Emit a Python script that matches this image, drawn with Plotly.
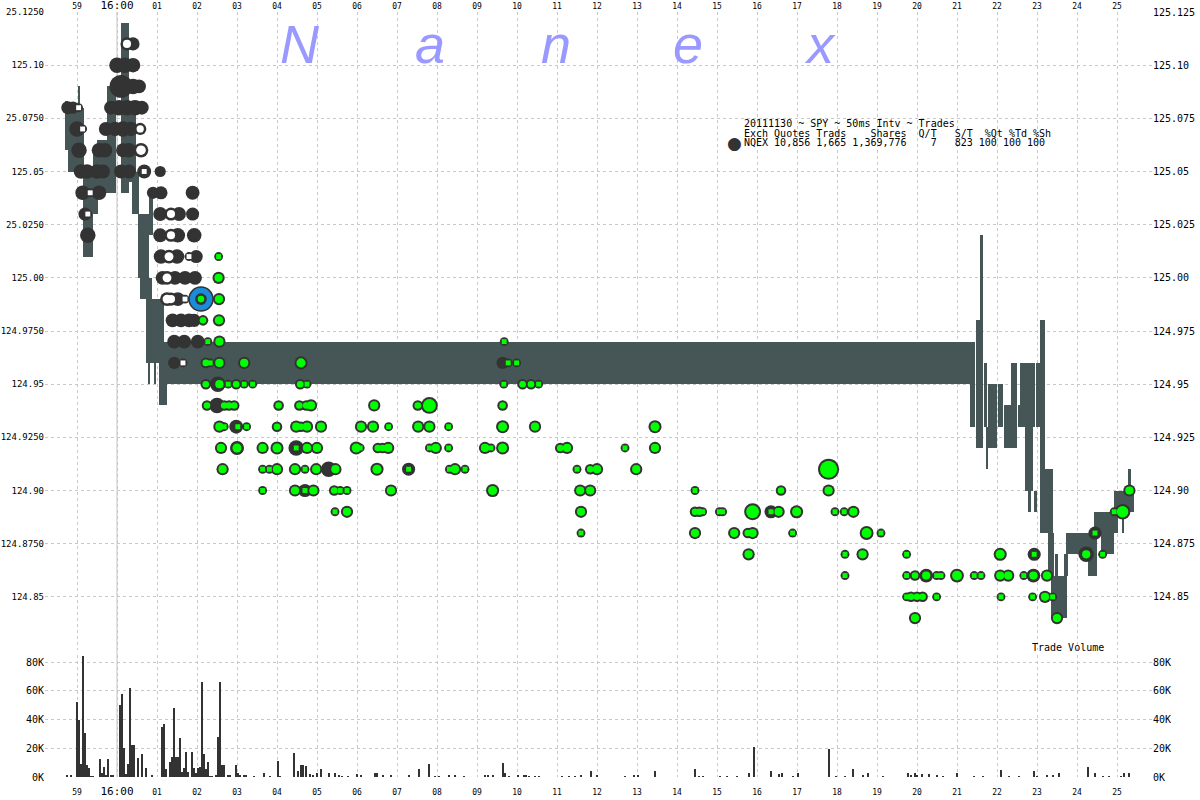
import numpy as np
import plotly.graph_objects as go

# ---------------- axes / ticks (time in seconds relative to 16:00:00) ----------------
tick_secs = list(range(-1, 26))
tick_labels = ['59', '<span style="font-size:11px">16:00</span>'] + [f'{i:02d}' for i in range(1, 26)]
tick_labels_bottom = ['59', '<span style="font-size:11px">16:00</span>'] + [f'{i:02d}' for i in range(1, 26)]

price_ticks = [round(124.85 + 0.025 * i, 3) for i in range(12)]
left_price_labels = ['124.85', '124.8750', '124.90', '124.9250', '124.95', '124.9750',
                     '125.00', '25.0250', '125.05', '25.0750', '125.10', '25.1250']
right_price_labels = ['124.85', '124.875', '124.90', '124.925', '124.95', '124.975',
                      '125.00', '125.025', '125.05', '125.075', '125.10', '125.125']
vol_ticks = [0, 20000, 40000, 60000, 80000]
vol_labels = ['0K', '20K', '40K', '60K', '80K']

# ---------------- NBBO quote band segments: start, end (s), low, high ----------------
q_t0 = [-1.30, -1.22, -0.97, -0.85, -0.60, -0.50, -0.25, 0.10, 0.30, 0.38, 0.52, 0.58, 0.72,
        0.78, 0.93, 0.80, 1.05, 1.18, 1.22,
        21.33, 21.48, 21.58, 21.68, 21.72, 21.78, 22.02, 22.18, 22.35, 22.52, 22.58, 22.70,
        22.78, 22.93, 22.98, 23.08, 23.20, 23.28, 23.35, 23.45, 23.68, 23.73, 24.28, 24.43,
        24.60, 24.78, 24.93, 25.13, 25.28]
q_t1 = [-1.22, -0.82, -0.92, -0.60, -0.47, -0.25, -0.03, 0.30, 0.48, 0.55, 0.80, 0.88, 1.05,
        0.82, 0.97, 0.90, 1.18, 1.25, 21.45,
        21.45, 21.65, 21.65, 21.75, 21.78, 22.00, 22.15, 22.40, 22.50, 22.65, 22.95, 22.90,
        22.85, 23.00, 23.08, 23.20, 23.40, 23.43, 23.75, 23.53, 23.78, 24.28, 24.50, 25.03,
        24.78, 24.93, 25.43, 25.18, 25.35]
q_lo = [125.060, 125.050, 125.080, 125.010, 125.030, 125.040, 125.040, 125.040, 125.045, 125.030,
        125.000, 124.990, 124.960, 124.950, 124.950, 125.020, 124.940, 124.940, 124.950,
        124.930, 124.920, 124.980, 124.930, 124.910, 124.920, 124.930, 124.920, 124.920, 124.930,
        124.930, 124.900, 124.890, 124.890, 124.930, 124.880, 124.880, 124.860, 124.840, 124.860,
        124.860, 124.870, 124.860, 124.880, 124.870, 124.870, 124.890, 124.880, 124.900]
q_hi = [125.083, 125.080, 125.090, 125.050, 125.060, 125.065, 125.090, 125.120, 125.080, 125.050,
        125.030, 125.000, 124.990, 124.960, 124.960, 125.040, 124.990, 124.970, 124.970,
        124.960, 124.980, 125.020, 124.960, 124.930, 124.950, 124.950, 124.940, 124.960, 124.940,
        124.960, 124.930, 124.900, 124.900, 124.960, 124.980, 124.910, 124.880, 124.860, 124.870,
        124.870, 124.880, 124.880, 124.890, 124.880, 124.880, 124.900, 124.890, 124.910]

# ---------------- trades (time s, price, shares) ----------------
dark_t = [0.40, 0.00, 0.20, 0.40, 0.10, 0.40, 0.55,
          -1.23, -1.10, -0.15, 0.05, 0.25, 0.45, 0.62,
          -1.00, -0.28, -0.05, 0.15, 0.35,
          -0.95, -0.45, -0.30, 0.15, 0.30,
          -0.90, -0.75, -0.50, -0.35, 0.10, 0.30, 0.68, 1.08,
          -0.86, -0.45, 0.90, 1.10, 1.89,
          -0.80, 1.08, 1.55, 1.89,
          -0.73, 1.08, 1.52, 1.93,
          1.10, 1.50, 1.98,
          1.14, 1.45, 1.70, 1.95,
          1.52,
          1.39, 1.60, 1.80, 1.93,
          1.43, 1.68, 2.02,
          1.43,
          2.52, 2.50, 2.98, 3.00, 4.48, 5.29, 4.70, 7.29, 9.64, 16.35, 20.23, 22.91,
          22.93, 24.23, 24.45]
dark_p = [125.11, 125.10, 125.10, 125.10, 125.09, 125.09, 125.09,
          125.08, 125.08, 125.08, 125.08, 125.08, 125.08, 125.08,
          125.07, 125.07, 125.07, 125.07, 125.07,
          125.06, 125.06, 125.06, 125.06, 125.06,
          125.05, 125.05, 125.05, 125.05, 125.05, 125.05, 125.05, 125.05,
          125.04, 125.04, 125.04, 125.04, 125.04,
          125.03, 125.03, 125.03, 125.03,
          125.02, 125.02, 125.02, 125.02,
          125.01, 125.01, 125.01,
          125.00, 125.00, 125.00, 125.00,
          124.99,
          124.98, 124.98, 124.98, 124.98,
          124.97, 124.97, 124.97,
          124.96,
          124.95, 124.94, 124.93, 124.92, 124.92, 124.91, 124.90, 124.91, 124.96, 124.89, 124.86, 124.86,
          124.87, 124.87, 124.88]
dark_sh = [800, 1500, 1500, 1200, 5000, 1500, 1000,
           800, 600, 1000, 1500, 1500, 1500, 1000,
           1500, 1000, 1200, 1500, 1200,
           1500, 1200, 1200, 1000, 1200,
           1200, 1200, 1200, 1000, 1000, 1000, 1000, 400,
           1200, 1200, 600, 800, 1000,
           800, 1000, 1000, 800,
           1500, 1000, 1200, 1200,
           1200, 1200, 800,
           1000, 1000, 1000, 1000,
           1000,
           1000, 1000, 1000, 800,
           1000, 1000, 1000,
           600,
           1500, 1500, 1000, 1000, 1500, 1500, 800, 800, 600, 800, 1000, 1000,
           800, 1500, 800]

hollow_t = [0.25, 0.58, 0.60, 1.35, 1.35, 1.30, 1.25, 1.25, 1.35]
hollow_p = [125.11, 125.07, 125.06, 125.03, 125.02, 125.01, 125.00, 124.99, 124.99]
hollow_sh = [800, 600, 1200, 800, 800, 1000, 1000, 1000, 800]

white_t = [-0.96, -0.86, 0.68, -0.67, -0.73, 1.80, 1.70, 1.65]
white_p = [125.08, 125.07, 125.05, 125.04, 125.03, 125.01, 124.99, 124.96]
white_sh = [100, 100, 100, 100, 100, 100, 100, 100]

hl_t = [2.10]
hl_p = [124.99]
hl_sh = [300]

green_rows = {
    125.01: [(2.54, 100)],
    125.00: [(2.54, 600)],
    124.99: [(2.55, 600)],
    124.98: [(2.15, 300), (2.55, 600)],
    124.97: [(2.27, 100), (2.56, 600), (9.68, 100)],
    124.96: [(2.22, 300), (2.33, 100), (2.56, 600), (3.18, 600), (4.60, 800), (9.78, 100), (9.99, 100)],
    124.95: [(2.22, 300), (2.56, 600), (2.78, 100), (2.98, 300), (3.18, 100), (3.39, 100), (4.58, 300),
             (4.75, 100), (9.67, 100), (10.14, 300), (10.35, 300), (10.54, 100)],
    124.94: [(2.25, 300), (2.68, 300), (2.80, 300), (2.93, 300), (4.04, 300), (4.56, 300), (4.73, 300),
             (4.85, 600), (6.43, 600), (7.52, 300), (7.81, 2000), (9.64, 300)],
    124.93: [(2.56, 600), (2.68, 100), (3.02, 100), (3.24, 100), (4.00, 300), (4.48, 600), (4.60, 300),
             (4.75, 600), (5.10, 600), (6.10, 600), (6.40, 600), (6.79, 100), (7.53, 600), (7.81, 600),
             (8.29, 100), (9.64, 800), (10.45, 600), (13.45, 800)],
    124.92: [(2.60, 600), (3.00, 800), (3.64, 600), (4.00, 800), (4.48, 100), (4.75, 600), (5.00, 600),
             (5.98, 800), (6.08, 100), (6.52, 300), (6.64, 300), (6.78, 600), (7.81, 100), (7.97, 600),
             (8.29, 100), (9.20, 600), (9.35, 100), (9.64, 800), (11.08, 300), (11.25, 600), (12.70, 100),
             (13.45, 600)],
    124.91: [(2.64, 600), (3.64, 100), (3.81, 100), (4.00, 600), (4.45, 600), (4.70, 100), (4.98, 600),
             (5.46, 600), (6.50, 800), (7.29, 100), (8.31, 100), (8.45, 600), (8.70, 100), (11.50, 100),
             (11.83, 300), (12.00, 600), (12.98, 600), (17.79, 4000)],
    124.90: [(3.64, 100), (4.45, 600), (4.70, 100), (4.91, 600), (5.43, 300), (5.58, 100), (5.75, 100),
             (6.85, 600), (9.39, 800), (11.58, 600), (11.83, 600), (14.45, 100), (16.60, 300),
             (17.79, 600), (25.31, 600)],
    124.89: [(5.45, 100), (5.75, 600), (11.60, 600), (14.45, 300), (14.56, 300), (14.64, 100),
             (15.06, 100), (15.14, 100), (15.89, 2000), (16.35, 100), (16.54, 600), (16.99, 800),
             (17.95, 100), (18.18, 100), (18.41, 600), (24.93, 100), (25.14, 1500)],
    124.88: [(11.60, 100), (14.45, 600), (15.43, 600), (15.77, 300), (15.89, 600), (16.89, 100),
             (18.74, 1000), (19.10, 100), (24.45, 100)],
    124.87: [(15.79, 600), (18.20, 100), (18.64, 600), (19.74, 100), (22.08, 800), (22.93, 100),
             (24.23, 600), (24.64, 100)],
    124.86: [(18.20, 100), (19.74, 100), (19.95, 300), (20.23, 600), (20.49, 100), (20.60, 100),
             (21.00, 1000), (21.43, 100), (21.60, 100), (22.08, 600), (22.28, 600), (22.67, 100),
             (22.91, 600), (23.25, 600)],
    124.85: [(19.74, 100), (19.85, 300), (20.00, 300), (20.14, 300), (20.49, 100), (22.10, 100),
             (22.89, 100), (23.20, 600), (23.39, 100)],
    124.84: [(19.95, 600), (23.50, 600)],
}
green_t = [t for p, row in green_rows.items() for t, s in row]
green_p = [p for p, row in green_rows.items() for t, s in row]
green_sh = [s for p, row in green_rows.items() for t, s in row]

# ---------------- trade volume per 50ms interval (time s, thousands of shares) ----------------
vol_t = [-1.25, -1.15, -1.00, -0.95, -0.90, -0.85, -0.80, -0.75, -0.70, -0.65, -0.60, -0.43, -0.38,
         -0.33, -0.28, -0.23, -0.15, -0.10, 0.07, 0.12, 0.17, 0.22, 0.27, 0.32, 0.37, 0.42, 0.52,
         0.62, 0.72, 0.87, 1.12, 1.17, 1.22, 1.32, 1.37, 1.42, 1.47, 1.52, 1.57, 1.62, 1.67, 1.72,
         1.77, 1.87, 1.92, 1.97, 2.02, 2.07, 2.12, 2.17, 2.22, 2.27, 2.32, 2.37, 2.47, 2.52, 2.57,
         2.62, 2.67, 2.77, 2.82, 2.97, 3.02, 3.07, 3.17, 3.22, 3.42, 3.67, 3.82, 4.02, 4.07, 4.43,
         4.52, 4.59, 4.66, 4.72, 4.83, 4.90, 5.00, 5.09, 5.31, 5.46, 5.55, 5.63, 5.77, 6.01, 6.10,
         6.44, 6.50, 6.66, 6.84, 7.30, 7.56, 7.79, 7.96, 8.04, 8.30, 8.45, 8.68, 9.20, 9.28, 9.40,
         9.66, 9.71, 9.79, 10.02, 10.17, 10.22, 10.30, 10.45, 10.54, 11.12, 11.30, 11.45, 11.61,
         11.86, 12.01, 12.70, 12.93, 13.02, 13.46, 14.46, 14.55, 14.66, 15.07, 15.25, 15.50, 15.80,
         15.92, 16.36, 16.55, 16.63, 16.90, 17.02, 17.79, 17.98, 18.20, 18.41, 18.65, 18.77, 19.14,
         19.77, 19.85, 19.95, 20.00, 20.13, 20.30, 20.50, 20.64, 21.01, 21.43, 21.65, 22.10, 22.30,
         22.55, 22.93, 23.00, 23.25, 23.40, 23.55, 24.27, 24.45, 24.65, 24.80, 25.10, 25.18, 25.30]
vol_k = [1.5, 1.5, 52, 40, 9, 84, 31, 8.5, 6, 0.5, 0.5, 12.5, 3,
         7, 1.5, 12.5, 1, 1, 50, 58, 20, 2, 9, 62, 22, 22, 13,
         16, 6, 1, 35, 37, 5.5, 10.5, 14, 48, 14, 14, 27, 3.5, 6.5, 17.5,
         3.5, 17.5, 6.5, 3, 6, 7, 66, 16, 5.5, 10.5, 0.5, 0.5, 1.5, 28, 66,
         8.5, 8.5, 1, 1, 8.5, 3, 1, 1.5, 1.5, 0.5, 2.5, 0.5, 11, 0.5, 16.5,
         4, 8.5, 8.5, 8, 2, 1, 3, 5.5, 3, 3, 1, 0.5, 0.5, 2, 1.5,
         2.5, 2.5, 1, 1, 1.5, 5.5, 9, 0.5, 0.5, 1, 1, 0.5, 1, 1, 1.5,
         10, 2.5, 0.5, 1, 1.5, 1.5, 0.5, 0.5, 0.5, 0.5, 0.5, 0.5, 1.5,
         4.5, 1, 0.5, 1, 1.5, 4, 5.5, 0.5, 0.5, 0.5, 0.5, 0.5, 2.5,
         21, 4, 2, 2.5, 0.5, 3, 19.5, 0.5, 0.5, 5.5, 1, 2.5, 0.3,
         3, 1.5, 3, 1.5, 2, 2, 1.5, 0.5, 3, 0.5, 0.5, 5, 0.5,
         0.5, 4, 0.5, 1, 1, 2.5, 7, 2.5, 0.5, 0.5, 0.5, 3, 3]

# ---------------- text ----------------
title_line = '20111130 ~ SPY ~ 50ms Intv ~ Trades'
header_line = 'Exch Quotes Trads    Shares  Q/T   S/T  %Qt %Td %Sh'
exch_line = 'NQEX 10,856 1,665 1,369,776    7   823 100 100 100'
watermark = ['N', 'a', 'n', 'e', 'x']

# ---------------- styling ----------------
DARK = '#333333'
GREEN = '#00ff00'
BAND = '#465555'
GRID = '#c8c8c8'
MONO = 'DejaVu Sans Mono'

W, H = 1200, 800
ML, MR, MT, MB = 45, 48, 12, 23
PW, PH = W - ML - MR, H - MT - MB


def px_x(x):
    return (x - ML) / PW


def px_y(y):
    return (H - MB - y) / PH


def inner_size(sh):
    return 2.6 + 2.3 * np.sqrt(np.asarray(sh, dtype=float) / 100.0)


fig = go.Figure()

# quote band (bars with base) on primary price axis
q_t0a, q_t1a = np.array(q_t0), np.array(q_t1)
q_loa, q_hia = np.array(q_lo), np.array(q_hi)
fig.add_trace(go.Bar(x=(q_t0a + q_t1a) / 2, width=q_t1a - q_t0a, base=q_loa, y=q_hia - q_loa,
                     marker=dict(color=BAND, line=dict(width=0)), xaxis='x', yaxis='y',
                     hoverinfo='skip', showlegend=False))


# trades on overlaying axis (drawn above the band)
def add_markers(t, p, size, color, symbol='circle', line=None):
    fig.add_trace(go.Scatter(x=t, y=p, mode='markers', xaxis='x', yaxis='y3',
                             marker=dict(size=size, color=color, symbol=symbol, opacity=1,
                                         line=line or dict(width=0)),
                             hoverinfo='skip', showlegend=False, cliponaxis=False))


add_markers(dark_t, dark_p, inner_size(dark_sh) + 4, DARK)
add_markers(hollow_t, hollow_p, inner_size(hollow_sh) + 4, DARK)
add_markers(hollow_t, hollow_p, inner_size(hollow_sh) - 1, 'white')
add_markers(white_t, white_p, inner_size(white_sh) + 4, DARK)
add_markers(white_t, white_p, inner_size(white_sh), 'white', symbol='square')
# highlighted large trade
add_markers(hl_t, hl_p, 24, '#1a8cd8', line=dict(width=1.5, color=DARK))
add_markers(hl_t, hl_p, inner_size(hl_sh) + 5, DARK)
add_markers(hl_t, hl_p, inner_size(hl_sh), GREEN)

g_sh = np.array(green_sh)
add_markers(green_t, green_p, inner_size(g_sh) + 4, DARK)
g_sym = ['square' if s <= 100 else 'circle' for s in green_sh]
add_markers(green_t, green_p, inner_size(g_sh), GREEN, symbol=g_sym)

# volume bars
for ya in ('y2', 'y4'):
    fig.add_trace(go.Bar(x=vol_t, y=np.array(vol_k) * 1000, width=0.05,
                         marker=dict(color=DARK, line=dict(width=0)), xaxis='x2', yaxis=ya,
                         hoverinfo='skip', showlegend=False))

xrange = [-1.8, 25.875]
top_dom = [px_y(650), 1.0]
bot_dom = [0.0, px_y(655)]

axis_common = dict(showgrid=True, gridcolor=GRID, griddash='3px,3px', gridwidth=1,
                   zeroline=False, showline=False, ticks='', automargin=False)
side_common = dict(showgrid=False, zeroline=False, showline=False, ticks='', automargin=False)
fig.update_layout(
    width=W, height=H, margin=dict(l=ML, r=MR, t=MT, b=MB),
    paper_bgcolor='white', plot_bgcolor='white', barmode='overlay', bargap=0,
    hovermode=False, showlegend=False,
    font=dict(family=MONO, size=10, color='black'),
    xaxis=dict(domain=[0, 1], range=xrange, anchor='y', side='top', tickvals=tick_secs,
               ticktext=tick_labels, tickfont=dict(size=8, family=MONO), **axis_common),
    xaxis2=dict(domain=[0, 1], range=xrange, anchor='y2', side='bottom', tickvals=tick_secs,
                ticktext=tick_labels_bottom, tickfont=dict(size=8, family=MONO),
                ticklabelstandoff=9, **axis_common),
    yaxis=dict(domain=top_dom, range=[124.825, 125.125], anchor='x', tickvals=price_ticks,
               ticktext=left_price_labels, tickfont=dict(size=9, family=MONO), **axis_common),
    yaxis3=dict(range=[124.825, 125.125], anchor='x', overlaying='y', side='right',
                tickvals=price_ticks, ticktext=right_price_labels,
                tickfont=dict(size=10, family=MONO), **side_common),
    yaxis2=dict(domain=bot_dom, range=[0, 85000], anchor='x2', tickvals=vol_ticks,
                ticktext=vol_labels, tickfont=dict(size=10, family=MONO), **axis_common),
    yaxis4=dict(range=[0, 85000], anchor='x2', overlaying='y2', side='right', tickvals=vol_ticks,
                ticktext=vol_labels, tickfont=dict(size=10, family=MONO), **side_common),
)

# 16:00 solid marker line
fig.add_shape(type='line', xref='x', yref='paper', x0=0, x1=0, y0=0, y1=1,
              line=dict(color='#c4c4c4', width=1), layer='below')

# watermark
for ch, cx in zip(watermark, [300, 430, 556, 688, 820]):
    fig.add_annotation(x=px_x(cx), y=px_y(44), xref='paper', yref='paper', text=ch,
                       showarrow=False, xanchor='center', yanchor='middle',
                       font=dict(family='Liberation Sans', size=54, color='#9999ff', style='italic'))

# info box
for i, line in enumerate([title_line, header_line, exch_line]):
    fig.add_annotation(x=px_x(742), y=px_y(123 + 10 * i), xref='paper', yref='paper',
                       text=line.replace(' ', '\u00a0'), showarrow=False, xanchor='left',
                       yanchor='middle', font=dict(family=MONO, size=10, color='black'))
fig.add_annotation(x=px_x(734), y=px_y(143), xref='paper', yref='paper', text='\u25cf',
                   showarrow=False, xanchor='center', yanchor='middle',
                   font=dict(family='DejaVu Sans', size=17, color=DARK))

fig.add_annotation(x=px_x(1068), y=px_y(647), xref='paper', yref='paper', text='Trade Volume',
                   showarrow=False, xanchor='center', yanchor='middle',
                   font=dict(family=MONO, size=10, color='black'))

fig.write_html('out.html', config={'displayModeBar': False},
               post_script="document.body.style.margin='0px';document.body.style.padding='0px';")
